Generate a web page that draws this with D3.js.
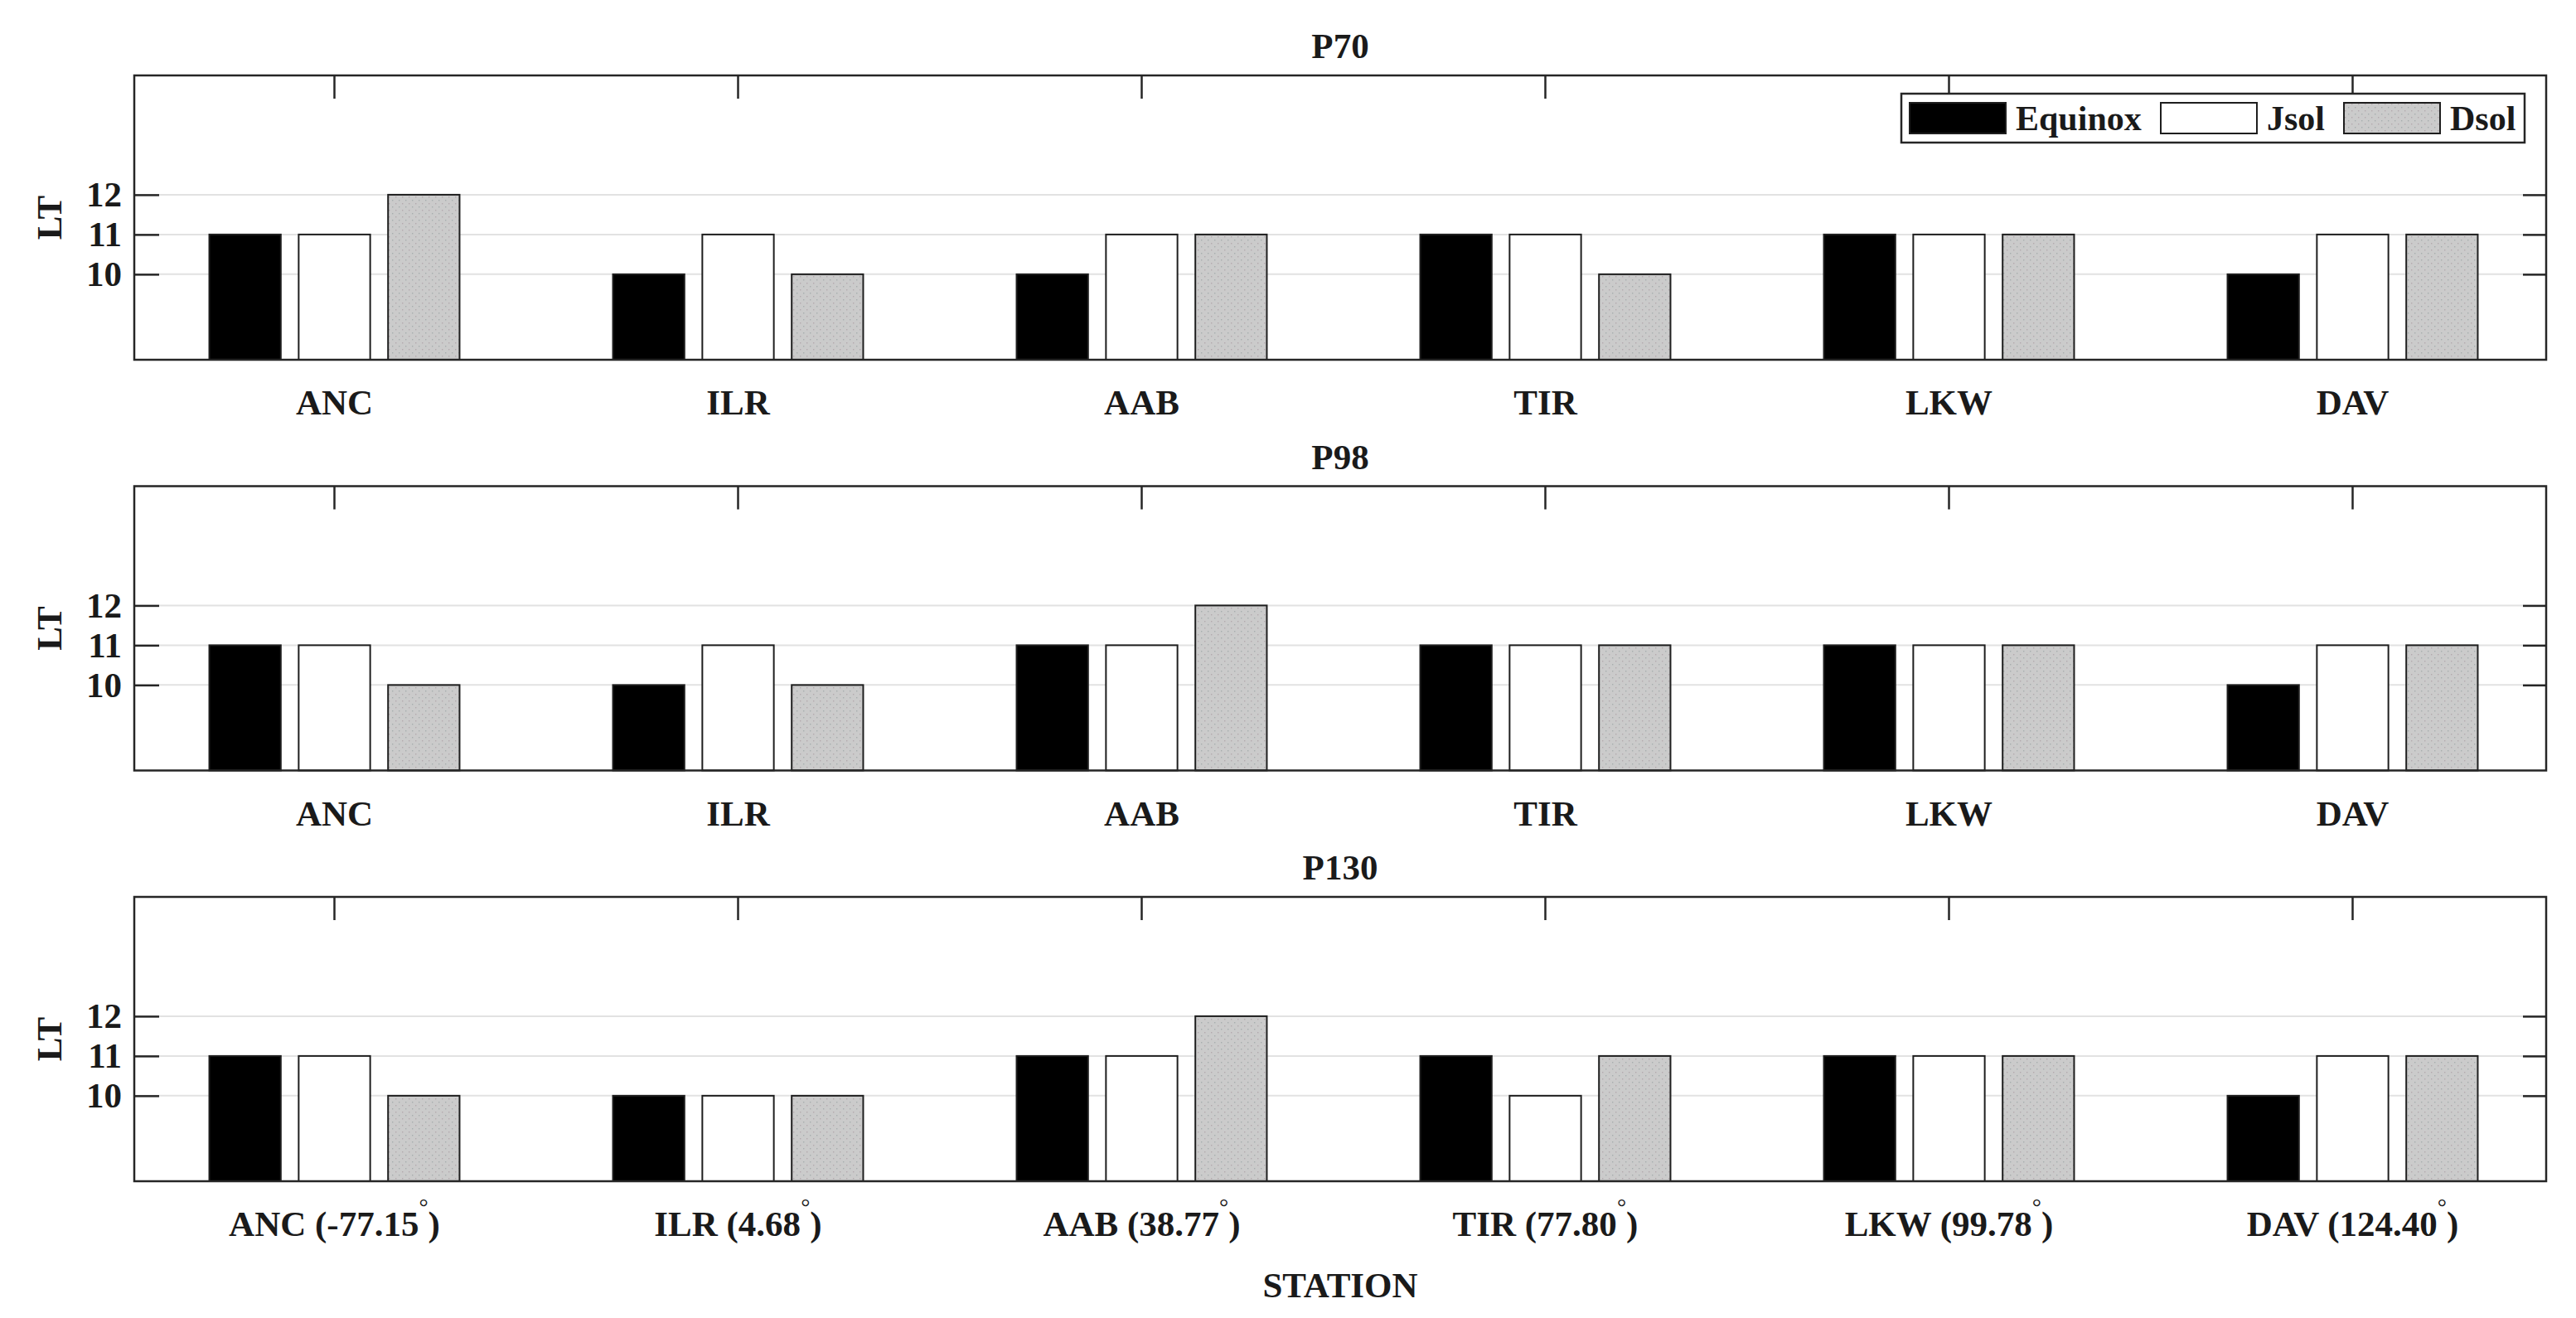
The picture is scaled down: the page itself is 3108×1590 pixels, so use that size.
<!DOCTYPE html>
<html>
<head>
<meta charset="utf-8">
<script src="https://cdn.jsdelivr.net/npm/d3@7"></script>
<style>
  body { margin: 0; background: #fff; }
  text { font-family: "Liberation Serif", "Times New Roman", serif; font-weight: bold; fill: #1a1a1a; }
</style>
</head>
<body>
<svg id="chart" width="3108" height="1590"></svg>
<script>
// data
var stations = ["ANC", "ILR", "AAB", "TIR", "LKW", "DAV"];
var longitudes = ["-77.15", "4.68", "38.77", "77.80", "99.78", "124.40"];
var seasons = ["Equinox", "Jsol", "Dsol"];
var panelTitles = ["P70", "P98", "P130"];
var yTicks = [10, 11, 12];
var yDomain = [7.85, 15];

var p70Equinox = [11, 10, 10, 11, 11, 10];
var p70Jsol    = [11, 11, 11, 11, 11, 11];
var p70Dsol    = [12, 10, 11, 10, 11, 11];

var p98Equinox = [11, 10, 11, 11, 11, 10];
var p98Jsol    = [11, 11, 11, 11, 11, 11];
var p98Dsol    = [10, 10, 12, 11, 11, 11];

var p130Equinox = [11, 10, 11, 11, 11, 10];
var p130Jsol    = [11, 10, 11, 10, 11, 11];
var p130Dsol    = [10, 10, 12, 11, 11, 11];

var panelValues = [
    [p70Equinox, p70Jsol, p70Dsol],
    [p98Equinox, p98Jsol, p98Dsol],
    [p130Equinox, p130Jsol, p130Dsol]
];

var svg = d3.select("#chart");
var plotLeft = 162, plotRight = 3072;
var panelTop0 = 91, panelStep = 495.5, panelHeight = 343;
var fontsize = 43;
var axisColor = "#262626";

// stippled grey fill for Dsol
var defs = svg.append("defs");
var pat = defs.append("pattern")
    .attr("id", "stipple")
    .attr("patternUnits", "userSpaceOnUse")
    .attr("width", 8).attr("height", 8);
pat.append("rect").attr("width", 8).attr("height", 8).attr("fill", "#cbcbcb");
pat.append("rect").attr("x", 1).attr("y", 1).attr("width", 1.4).attr("height", 1.4).attr("fill", "#a6adad");
pat.append("rect").attr("x", 5).attr("y", 5).attr("width", 1.4).attr("height", 1.4).attr("fill", "#b3a9ad");

var fills = {Equinox: "#000000", Jsol: "#ffffff", Dsol: "url(#stipple)"};

// station bands (x-limits are a little wider on the right than the frame)
var x0 = d3.scaleBand()
    .domain(stations)
    .range([160, 3082])
    .paddingInner(0.38)
    .paddingOuter(0.19);

var x1 = d3.scaleBand()
    .domain(seasons)
    .range([0, x0.bandwidth()])
    .paddingInner(0.2)
    .paddingOuter(0);

panelTitles.forEach(function(title, p) {
    var top = panelTop0 + p * panelStep;
    var bottom = top + panelHeight;
    var y = d3.scaleLinear().domain(yDomain).range([bottom, top]);
    var g = svg.append("g");

    //#region grid
    g.selectAll("line.grid")
        .data(yTicks)
        .join("line")
        .attr("class", "grid")
        .attr("x1", plotLeft).attr("x2", plotRight)
        .attr("y1", function(d) { return y(d); })
        .attr("y2", function(d) { return y(d); })
        .attr("stroke", "#e2e2e2")
        .attr("stroke-width", 2);
    //#endregion

    //#region bars
    var rows = [];
    stations.forEach(function(s, i) {
        seasons.forEach(function(k, j) {
            rows.push({station: s, season: k, value: panelValues[p][j][i]});
        });
    });
    g.selectAll("rect.bar")
        .data(rows)
        .join("rect")
        .attr("class", "bar")
        .attr("x", function(d) { return x0(d.station) + x1(d.season); })
        .attr("width", x1.bandwidth())
        .attr("y", function(d) { return y(d.value); })
        .attr("height", function(d) { return y(yDomain[0]) - y(d.value); })
        .attr("fill", function(d) { return fills[d.season]; })
        .attr("stroke", "#1e1e1e")
        .attr("stroke-width", 2);
    //#endregion

    //#region axes
    var leftAxis = d3.axisLeft(y).tickValues(yTicks).tickSizeInner(-30).tickSizeOuter(0).tickPadding(15);
    var rightAxis = d3.axisRight(y).tickValues(yTicks).tickSizeInner(-28).tickSizeOuter(0).tickFormat("");
    var topAxis = d3.axisTop(x0).tickSizeInner(-28).tickSizeOuter(0).tickFormat("");

    var la = g.append("g").attr("transform", "translate(" + plotLeft + ",0)").call(leftAxis);
    var ra = g.append("g").attr("transform", "translate(" + plotRight + ",0)").call(rightAxis);
    var ta = g.append("g").attr("transform", "translate(0," + top + ")").call(topAxis);
    [la, ra, ta].forEach(function(a) {
        a.select(".domain").remove();
        a.selectAll("line").attr("stroke", axisColor).attr("stroke-width", 2.5);
    });
    la.selectAll("text")
        .attr("font-size", fontsize)
        .attr("fill", "#1a1a1a");

    g.append("rect")
        .attr("x", plotLeft).attr("y", top)
        .attr("width", plotRight - plotLeft).attr("height", panelHeight)
        .attr("fill", "none")
        .attr("stroke", axisColor)
        .attr("stroke-width", 2.5);
    //#endregion

    //#region labels
    g.append("text")
        .attr("x", (plotLeft + plotRight) / 2)
        .attr("y", top - 21)
        .attr("text-anchor", "middle")
        .attr("font-size", fontsize)
        .text(title);

    g.append("text")
        .attr("transform", "translate(74," + (top + panelHeight / 2) + ")rotate(-90)")
        .attr("text-anchor", "middle")
        .attr("font-size", fontsize)
        .text("LT");

    var lab = g.selectAll("text.cat")
        .data(stations)
        .join("text")
        .attr("class", "cat")
        .attr("x", function(d) { return x0(d) + x0.bandwidth() / 2; })
        .attr("y", bottom + 66)
        .attr("text-anchor", "middle")
        .attr("font-size", fontsize);
    if (p < panelTitles.length - 1) {
        lab.text(function(d) { return d; });
    } else {
        lab.each(function(d, i) {
            var t = d3.select(this);
            t.append("tspan").text(d + " (" + longitudes[i]);
            t.append("tspan").attr("dy", -26).attr("font-size", 28).attr("font-weight", "normal").text("\u00b0");
            t.append("tspan").attr("dy", 26).text(")");
        });
    }
    //#endregion
});

svg.append("text")
    .attr("x", (plotLeft + plotRight) / 2)
    .attr("y", 1565)
    .attr("text-anchor", "middle")
    .attr("font-size", fontsize)
    .text("STATION");

//#region legend
var leg = svg.append("g");
leg.append("rect")
    .attr("x", 2294).attr("y", 113)
    .attr("width", 752).attr("height", 59)
    .attr("fill", "#fff")
    .attr("stroke", axisColor)
    .attr("stroke-width", 2.5);
var legX = [2304, 2607, 2828];
seasons.forEach(function(k, j) {
    leg.append("rect")
        .attr("x", legX[j]).attr("y", 124)
        .attr("width", 116).attr("height", 37)
        .attr("fill", fills[k])
        .attr("stroke", "#1e1e1e")
        .attr("stroke-width", 2);
    leg.append("text")
        .attr("x", legX[j] + 128)
        .attr("y", 157)
        .attr("font-size", 42)
        .text(k);
});
//#endregion
</script>
</body>
</html>
